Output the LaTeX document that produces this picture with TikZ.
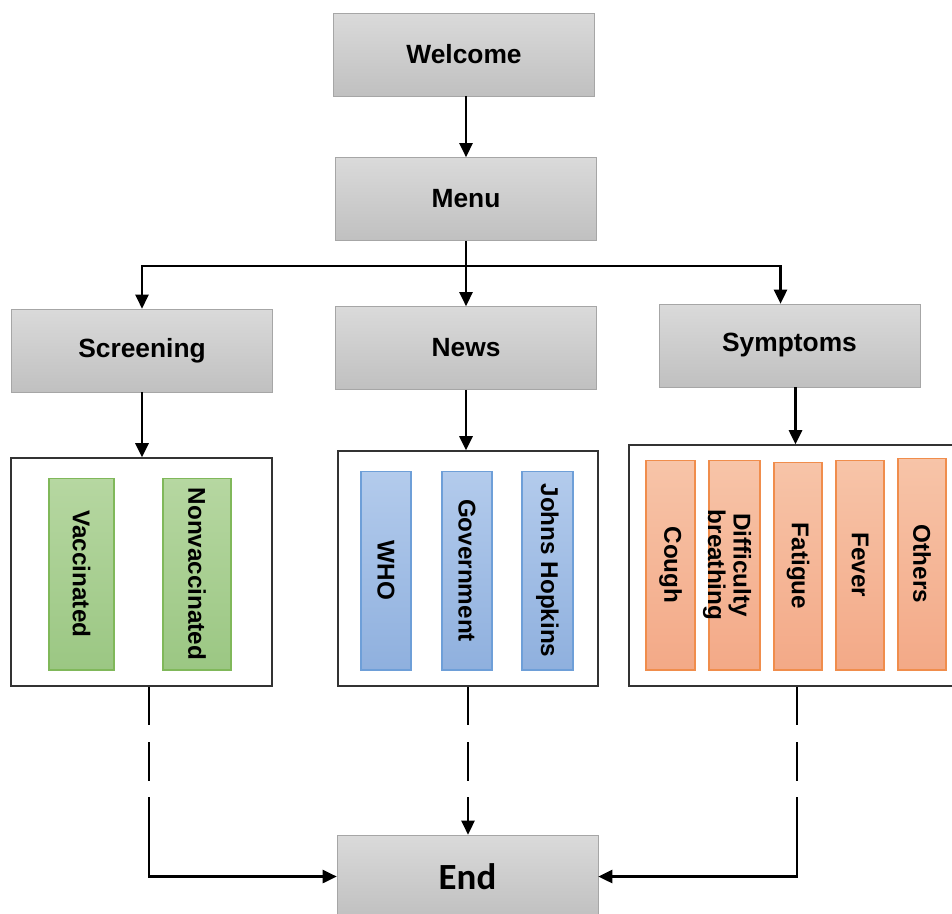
\documentclass[tikz,border=0pt]{standalone}
\usepackage{fontspec}
\setmainfont{Liberation Sans}
\newfontfamily\endfont{Carlito}
\usetikzlibrary{arrows.meta}

\definecolor{graytop}{HTML}{DADADA}
\definecolor{graybot}{HTML}{C0C0C0}
\definecolor{grayline}{HTML}{A6A6A6}
\definecolor{greentop}{HTML}{B6D7A1}
\definecolor{greenbot}{HTML}{9BC783}
\definecolor{greenline}{HTML}{80B85A}
\definecolor{bluetop}{HTML}{B3CBEC}
\definecolor{bluebot}{HTML}{8FB0DE}
\definecolor{blueline}{HTML}{6E9FD8}
\definecolor{orangetop}{HTML}{F7C4A8}
\definecolor{orangebot}{HTML}{F3A987}
\definecolor{orangeline}{HTML}{F08D4C}

\begin{document}
\begin{tikzpicture}[x=0.02cm, y=-0.02cm,
  >={Triangle[length=8pt,width=7.5pt]},
  conn/.style={line width=1.3pt, ->},
  dashline/.style={line width=1.3pt, ->,
    dash pattern=on 22pt off 9.5pt on 22pt off 9.5pt on 400pt off 1pt},
  box/.style={draw=grayline, top color=graytop, bottom color=graybot,
    minimum width=5.22cm, minimum height=1.66cm,
    font=\fontsize{15}{18}\selectfont\bfseries},
  group/.style={draw=black!80, line width=0.9pt},
  bar/.style={draw=#1line, top color=#1top, bottom color=#1bot,
    rotate=-90, inner sep=0pt, line width=0.6pt,
    font=\fontsize{13.8}{15.5}\selectfont\bfseries}]

  \useasboundingbox (0,0) rectangle (952,913);
  \clip (0,0) rectangle (952,913);

  % main boxes
  \node[box] (welcome) at (464,54.5) {Welcome};
  \node[box] (menu) at (466,199) {Menu};
  \node[box] (screening) at (142,350.5) {Screening};
  \node[box] (news) at (466,348) {News};
  \node[box] (symptoms) at (789.5,345.5) {Symptoms};
  \node[box, minimum height=1.66cm, font=\endfont\fontsize{21}{24}\selectfont\bfseries]
    (end) at (467.5,876.5) {End};

  % groups
  \node[group, minimum width=5.22cm, minimum height=4.56cm] (scrbox) at (141.5,572) {};
  \node[group, minimum width=5.2cm, minimum height=4.7cm] (newsbox) at (468,568.5) {};
  \node[group, minimum width=6.66cm, minimum height=4.82cm] (sympbox) at (795.5,565.5) {};

  \node[bar=green, minimum width=3.84cm, minimum height=1.3cm] (vacc) at (81.5,574) {Vaccinated};
  \node[bar=green, minimum width=3.84cm, minimum height=1.36cm] (nonvacc) at (197,574) {Nonvaccinated};

  \node[bar=blue, minimum width=3.98cm, minimum height=1.0cm] (who) at (386,570.5) {WHO};
  \node[bar=blue, minimum width=3.98cm, minimum height=1.0cm] (gov) at (467,570.5) {Government};
  \node[bar=blue, minimum width=3.98cm, minimum height=1.02cm] (jhu) at (547.5,570.5) {Johns Hopkins};

  \node[bar=orange, minimum width=4.2cm, minimum height=0.98cm] (cough) at (670.5,565) {Cough};
  \node[bar=orange, minimum width=4.2cm, minimum height=1.02cm] (diff) at (734.5,565) {};
  \node[rotate=-90, align=center, inner sep=0pt, font=\fontsize{13.8}{14.5}\selectfont\bfseries]
    (difftext) at (727,565) {Difficulty\\breathing};
  \node[bar=orange, minimum width=4.16cm, minimum height=0.96cm] (fatigue) at (798,566) {Fatigue};
  \node[bar=orange, minimum width=4.2cm, minimum height=0.96cm] (fever) at (860,565) {Fever};
  \node[bar=orange, minimum width=4.24cm, minimum height=0.96cm] (others) at (922,564) {Others};

  % connectors
  \coordinate (split) at (466,266);
  \draw[conn] (welcome.south -| menu.north) -- (menu.north);
  \draw[line width=1.3pt] (menu.south) -- (split);
  \draw[conn] (split) -- (news.north);
  \draw[conn] (split) -| (screening.north);
  \draw[conn] (split) -| ([xshift=-0.18cm]symptoms.north);

  \draw[conn] (screening.south) -- (screening.south |- scrbox.north);
  \draw[conn] (news.south) -- (news.south |- newsbox.north);
  \draw[conn] (symptoms.south -| sympbox.north) -- (sympbox.north);

  \draw[dashline] ([xshift=0.15cm]scrbox.south) |- (end.west);
  \draw[dashline] (newsbox.south) -- (newsbox.south |- end.north);
  \draw[dashline] ([xshift=0.03cm]sympbox.south) |- (end.east);

\end{tikzpicture}
\end{document}
